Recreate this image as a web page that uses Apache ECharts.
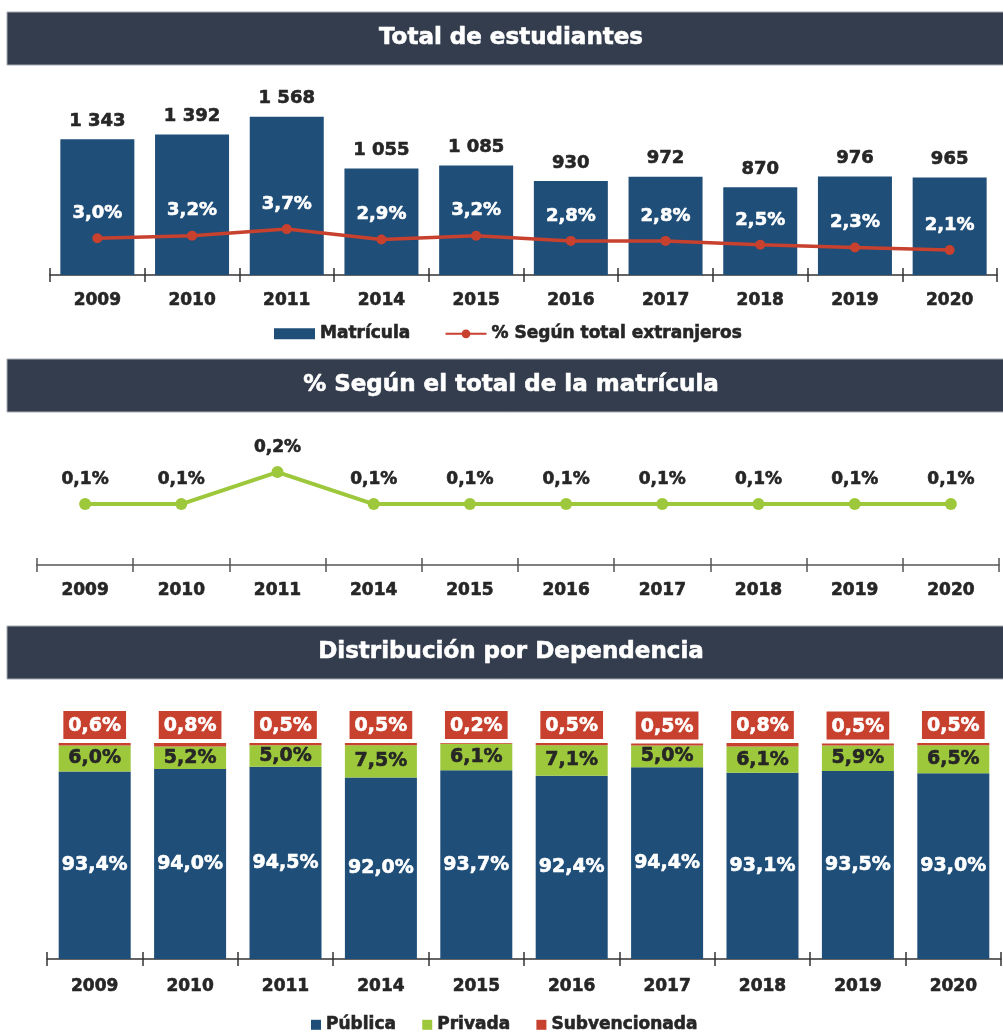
<!DOCTYPE html>
<html>
<head>
<meta charset="utf-8">
<script src="https://cdn.jsdelivr.net/npm/echarts@6/dist/echarts.min.js"></script>
<style>
  html, body { margin: 0; padding: 0; background: #fff; }
  #chart { width: 1003px; height: 1034px; }
</style>
</head>
<body>
<div id="chart"></div>
<script>
const years = ['2009', '2010', '2011', '2014', '2015', '2016', '2017', '2018', '2019', '2020'];
const matricula = [1343, 1392, 1568, 1055, 1085, 930, 972, 870, 976, 965];
const pctExtranjeros = [3.0, 3.2, 3.7, 2.9, 3.2, 2.8, 2.8, 2.5, 2.3, 2.1];
const pctMatricula = [0.1, 0.1, 0.2, 0.1, 0.1, 0.1, 0.1, 0.1, 0.1, 0.1];
const publica = [93.4, 94.0, 94.5, 92.0, 93.7, 92.4, 94.4, 93.1, 93.5, 93.0];
const privada = [6.0, 5.2, 5.0, 7.5, 6.1, 7.1, 5.0, 6.1, 5.9, 6.5];
const subvencionada = [0.6, 0.8, 0.5, 0.5, 0.2, 0.5, 0.5, 0.8, 0.5, 0.5];

const titles = ['Total de estudiantes', '% Según el total de la matrícula', 'Distribución por Dependencia'];

const FONT = '"DejaVu Sans", sans-serif';
const NAVY = '#1f4e78';
const RED = '#c8402e';
const GREEN = '#9dc83b';
const DARK = '#262626';

const pct = v => v.toFixed(1).replace('.', ',') + '%';
const miles = v => String(v).replace(/\B(?=(\d{3})+(?!\d))/g, ' ');

// bold text, thickened a little with a stroke of its own colour
const txt = (color, size) => ({
  color: color, fontFamily: FONT, fontWeight: 'bold', fontSize: size,
  textBorderColor: color, textBorderWidth: 0.6
});

// header bars: [top, height]
const headers = [[12, 53], [359, 53], [626, 53]];

const chart = echarts.init(document.getElementById('chart'));

function mainX(grid, margin, lineColor) {
  return {
    type: 'category', gridIndex: grid, data: years, position: 'bottom',
    axisLine: { onZero: false, lineStyle: { color: lineColor, width: 1.5 } },
    axisTick: { show: true, length: 7, lineStyle: { color: lineColor, width: 1.5 } },
    axisLabel: Object.assign({ margin: margin }, txt(DARK, 17))
  };
}
// second axis only to draw the upper half of the crossing ticks
function tickX(grid, height, lineColor) {
  return {
    type: 'category', gridIndex: grid, data: years, position: 'top', offset: -height,
    axisLine: { show: false, onZero: false },
    axisTick: { show: true, length: 7, lineStyle: { color: lineColor, width: 1.5 } },
    axisLabel: { show: false }
  };
}

const option = {
  animation: false,
  backgroundColor: '#fff',
  graphic: headers.map((h, i) => ({
    type: 'group',
    children: [
      { type: 'rect', shape: { x: 7, y: h[0], width: 1000, height: h[1] },
        style: { fill: '#343d4d', stroke: '#a7acb3', lineWidth: 1 } },
      { type: 'text', x: 511, y: h[0] + h[1] / 2,
        style: { text: titles[i], fill: '#fff', stroke: '#fff', lineWidth: 0.6,
          font: 'bold 23px ' + FONT, align: 'center', verticalAlign: 'middle' } }
    ]
  })),
  grid: [
    { left: 50, right: 6, top: 73, height: 202 },
    { left: 37, right: 4, top: 440, height: 125 },
    { left: 47, right: 2, top: 743, height: 216 }
  ],
  legend: [
    {
      data: [{ name: 'Matrícula', icon: 'rect' }, '% Según total extranjeros'],
      left: 269, top: 320, itemWidth: 41, itemHeight: 11, itemGap: 34, itemTextGap: 5,
      textStyle: txt(DARK, 17)
    },
    {
      data: ['Pública', 'Privada', 'Subvencionada'], icon: 'rect',
      left: 306, top: 1011, itemWidth: 10, itemHeight: 10, itemGap: 26, itemTextGap: 6,
      textStyle: txt(DARK, 17)
    }
  ],
  xAxis: [
    mainX(0, 17, '#333'),
    tickX(0, 202, '#333'),
    mainX(1, 17, '#555'),
    tickX(1, 125, '#555'),
    mainX(2, 19, '#333'),
    tickX(2, 216, '#333')
  ],
  yAxis: [
    { type: 'value', gridIndex: 0, min: 0, max: 2000, show: false, splitLine: { show: false } },
    { type: 'value', gridIndex: 0, min: 0.2, max: 15.6, show: false, splitLine: { show: false } },
    { type: 'value', gridIndex: 1, min: -0.09, max: 0.3, show: false, splitLine: { show: false } },
    { type: 'value', gridIndex: 2, min: 50, max: 100, show: false, splitLine: { show: false } }
  ],
  series: [
    {
      name: 'Matrícula', type: 'bar', xAxisIndex: 0, yAxisIndex: 0,
      data: matricula, barWidth: 74,
      itemStyle: { color: NAVY },
      label: Object.assign({ show: true, position: 'top', distance: 9, formatter: p => miles(p.value) }, txt(DARK, 18))
    },
    {
      name: '% Según total extranjeros', type: 'line', xAxisIndex: 0, yAxisIndex: 1,
      data: pctExtranjeros, symbol: 'circle', symbolSize: 10,
      lineStyle: { color: RED, width: 3.5 }, itemStyle: { color: RED },
      label: Object.assign({ show: true, position: 'top', distance: 11, formatter: p => pct(p.value) }, txt('#fff', 18))
    },
    {
      name: 'pctMatricula', type: 'line', xAxisIndex: 2, yAxisIndex: 2,
      data: pctMatricula, symbol: 'circle', symbolSize: 12,
      lineStyle: { color: GREEN, width: 4 }, itemStyle: { color: GREEN },
      label: Object.assign({ show: true, position: 'top', distance: 10, formatter: p => pct(p.value) }, txt(DARK, 17))
    },
    {
      name: 'Pública', type: 'bar', stack: 'dep', xAxisIndex: 4, yAxisIndex: 3,
      data: publica, barWidth: 72, itemStyle: { color: NAVY },
      label: Object.assign({ show: true, position: 'inside', formatter: p => pct(p.value) }, txt('#fff', 19))
    },
    {
      name: 'Privada', type: 'bar', stack: 'dep', xAxisIndex: 4, yAxisIndex: 3,
      data: privada, barWidth: 72, itemStyle: { color: GREEN },
      label: Object.assign({ show: true, position: 'inside', formatter: p => pct(p.value) }, txt(DARK, 19))
    },
    {
      name: 'Subvencionada', type: 'bar', stack: 'dep', xAxisIndex: 4, yAxisIndex: 3,
      data: subvencionada, barWidth: 72, itemStyle: { color: RED },
      label: Object.assign({
        show: true, position: 'top', distance: 4, formatter: p => pct(p.value),
        backgroundColor: RED, padding: [6, 5, 3, 5]
      }, txt('#fff', 19))
    }
  ]
};

chart.setOption(option);
</script>
</body>
</html>
